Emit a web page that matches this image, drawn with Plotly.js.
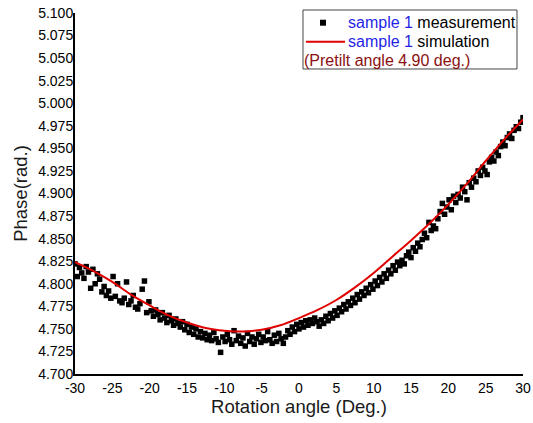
<!DOCTYPE html>
<html>
<head>
<meta charset="utf-8">
<script src="https://cdn.plot.ly/plotly-3.0.1.min.js"></script>
<style>html,body{margin:0;padding:0;background:#fff;}#chart{width:533px;height:423px;}</style>
</head>
<body>
<div id="chart"></div>
<script>
// Measurement (rotation angle in deg., phase in rad.)
const measX = [
-30,-29.7,-29.4,-29.1,-28.8,-28.5,-28.2,-27.9,-27.6,-27.3,
-27,-26.7,-26.4,-26.1,-25.8,-25.5,-25.2,-24.9,-24.6,-24.3,
-24,-23.7,-23.4,-23.1,-22.8,-22.5,-22.2,-21.9,-21.6,-21.3,
-21,-20.7,-20.4,-20.1,-19.8,-19.5,-19.2,-18.9,-18.6,-18.3,
-18,-17.7,-17.4,-17.1,-16.8,-16.5,-16.2,-15.9,-15.6,-15.3,
-15,-14.7,-14.4,-14.1,-13.8,-13.5,-13.2,-12.9,-12.6,-12.3,
-12,-11.7,-11.4,-11.1,-10.8,-10.5,-10.2,-9.9,-9.6,-9.3,
-9,-8.7,-8.4,-8.1,-7.8,-7.5,-7.2,-6.9,-6.6,-6.3,
-6,-5.7,-5.4,-5.1,-4.8,-4.5,-4.2,-3.9,-3.6,-3.3,
-3,-2.7,-2.4,-2.1,-1.8,-1.5,-1.2,-0.9,-0.6,-0.3,
0,0.3,0.6,0.9,1.2,1.5,1.8,2.1,2.4,2.7,
3,3.3,3.6,3.9,4.2,4.5,4.8,5.1,5.4,5.7,
6,6.3,6.6,6.9,7.2,7.5,7.8,8.1,8.4,8.7,
9,9.3,9.6,9.9,10.2,10.5,10.8,11.1,11.4,11.7,
12,12.3,12.6,12.9,13.2,13.5,13.8,14.1,14.4,14.7,
15,15.3,15.6,15.9,16.2,16.5,16.8,17.1,17.4,17.7,
18,18.3,18.6,18.9,19.2,19.5,19.8,20.1,20.4,20.7,
21,21.3,21.6,21.9,22.2,22.5,22.8,23.1,23.4,23.7,
24,24.3,24.6,24.9,25.2,25.5,25.8,26.1,26.4,26.7,
27,27.3,27.6,27.9,28.2,28.5,28.8,29.1,29.4,29.7,
30];
const measY = [
4.822,4.808,4.818,4.812,4.806,4.819,4.813,4.795,4.816,4.800,
4.811,4.805,4.791,4.797,4.787,4.792,4.784,4.808,4.786,4.800,
4.781,4.779,4.784,4.802,4.777,4.781,4.787,4.774,4.772,4.778,
4.794,4.803,4.768,4.780,4.770,4.764,4.771,4.766,4.760,4.768,
4.762,4.757,4.765,4.759,4.754,4.761,4.756,4.752,4.758,4.749,
4.755,4.746,4.752,4.744,4.750,4.741,4.747,4.740,4.745,4.738,
4.743,4.737,4.746,4.739,4.735,4.724,4.741,4.736,4.744,4.738,
4.733,4.748,4.737,4.742,4.734,4.740,4.731,4.745,4.736,4.741,
4.733,4.739,4.744,4.735,4.741,4.737,4.747,4.738,4.734,4.743,
4.736,4.745,4.739,4.734,4.741,4.748,4.744,4.752,4.747,4.755,
4.750,4.757,4.752,4.759,4.754,4.760,4.756,4.762,4.758,4.753,
4.760,4.756,4.764,4.759,4.767,4.762,4.770,4.765,4.773,4.769,
4.777,4.772,4.780,4.776,4.784,4.779,4.788,4.783,4.791,4.787,
4.795,4.790,4.799,4.794,4.803,4.798,4.807,4.802,4.811,4.806,
4.815,4.811,4.820,4.815,4.824,4.820,4.826,4.822,4.831,4.835,
4.829,4.840,4.836,4.845,4.841,4.849,4.856,4.851,4.868,4.859,
4.864,4.861,4.872,4.880,4.889,4.877,4.885,4.893,4.882,4.897,
4.890,4.899,4.895,4.907,4.902,4.893,4.912,4.907,4.917,4.913,
4.925,4.920,4.929,4.925,4.921,4.935,4.940,4.936,4.946,4.942,
4.952,4.957,4.953,4.962,4.966,4.961,4.970,4.974,4.972,4.979,
4.984];

// Simulation curve
const simX = [-30,-27.5,-25,-22.5,-20,-17.5,-15,-12.5,-10,-7.5,-5,-2.5,0,2.5,5,7.5,10,12.5,15,17.5,20,22.5,25,27.5,30];
const simY = [4.824,4.814,4.802,4.788,4.776,4.765,4.757,4.751,4.748,4.747,4.749,4.754,4.762,4.771,4.782,4.796,4.812,4.830,4.848,4.867,4.888,4.911,4.936,4.960,4.982];

const xTickVals = [-30,-25,-20,-15,-10,-5,0,5,10,15,20,25,30];
const yTickVals = [4.700,4.725,4.750,4.775,4.800,4.825,4.850,4.875,4.900,4.925,4.950,4.975,5.000,5.025,5.050,5.075,5.100];

const seriesNames = [
  '<span style="color:#1f1fe6">sample 1</span> measurement',
  '<span style="color:#1f1fe6">sample 1</span> simulation'
];
const noteText = '(Pretilt angle 4.90 deg.)';

const FONT = 'Liberation Sans, Arial, sans-serif';
const MEAS_COLOR = '#000';
const SIM_COLOR = '#e00000';

const traces = [
  {
    x: measX, y: measY, type: 'scatter', mode: 'markers', name: seriesNames[0],
    marker: {symbol: 'square', size: 5.5, color: MEAS_COLOR}
  },
  {
    x: simX, y: simY, type: 'scatter', mode: 'lines', name: seriesNames[1],
    line: {color: SIM_COLOR, width: 2, shape: 'spline', smoothing: 1}
  }
];

// hand-built legend box (paper coordinates)
const legendAnn = (text, x, y, color) => ({
  xref: 'paper', yref: 'paper', x: x, y: y, xanchor: 'left', yanchor: 'middle',
  text: text, showarrow: false, borderwidth: 0, borderpad: 0,
  font: {family: FONT, size: 16, color: color}
});

const layout = {
  width: 533, height: 423,
  margin: {l: 75, r: 10, t: 13, b: 49},
  paper_bgcolor: '#fff', plot_bgcolor: '#fff',
  font: {family: FONT, color: '#000', size: 14},
  showlegend: false,
  xaxis: {
    range: [-30, 30], tickvals: xTickVals, ticktext: xTickVals.map(String),
    showgrid: false, zeroline: false, showline: true, linecolor: '#000', linewidth: 2,
    ticks: '', tickfont: {family: FONT, size: 14, color: '#000'},
    title: {text: 'Rotation angle (Deg.)', font: {family: FONT, size: 18.5, color: '#1a1a1a'}, standoff: 4},
    automargin: false
  },
  yaxis: {
    range: [4.7, 5.1], tickvals: yTickVals, ticktext: yTickVals.map(v => v.toFixed(3)),
    showgrid: false, zeroline: false, showline: true, linecolor: '#000', linewidth: 2,
    ticks: '', ticklabelstandoff: -3, tickfont: {family: FONT, size: 14, color: '#000'},
    title: {text: 'Phase(rad.)', font: {family: FONT, size: 18.5, color: '#1a1a1a'}, standoff: 6},
    automargin: false
  },
  shapes: [
    {type: 'rect', xref: 'paper', yref: 'paper', x0: 0.5089, x1: 0.9866, y0: 0.8449, y1: 1.0083,
     line: {color: '#444', width: 1}, fillcolor: 'rgba(0,0,0,0)'},
    {type: 'rect', xref: 'paper', yref: 'paper', x0: 0.5469, x1: 0.5603, y0: 0.9648, y1: 0.9814,
     line: {width: 0}, fillcolor: MEAS_COLOR},
    {type: 'line', xref: 'paper', yref: 'paper', x0: 0.5156, x1: 0.6027, y0: 0.9205, y1: 0.9205,
     line: {color: SIM_COLOR, width: 2}}
  ],
  annotations: [
    legendAnn(seriesNames[0], 0.6094, 0.9731, '#000'),
    legendAnn(seriesNames[1], 0.6094, 0.9205, '#000'),
    legendAnn(noteText, 0.5112, 0.8679, '#8b1010')
  ]
};

Plotly.newPlot('chart', traces, layout, {displayModeBar: false, staticPlot: true});
</script>
</body>
</html>
